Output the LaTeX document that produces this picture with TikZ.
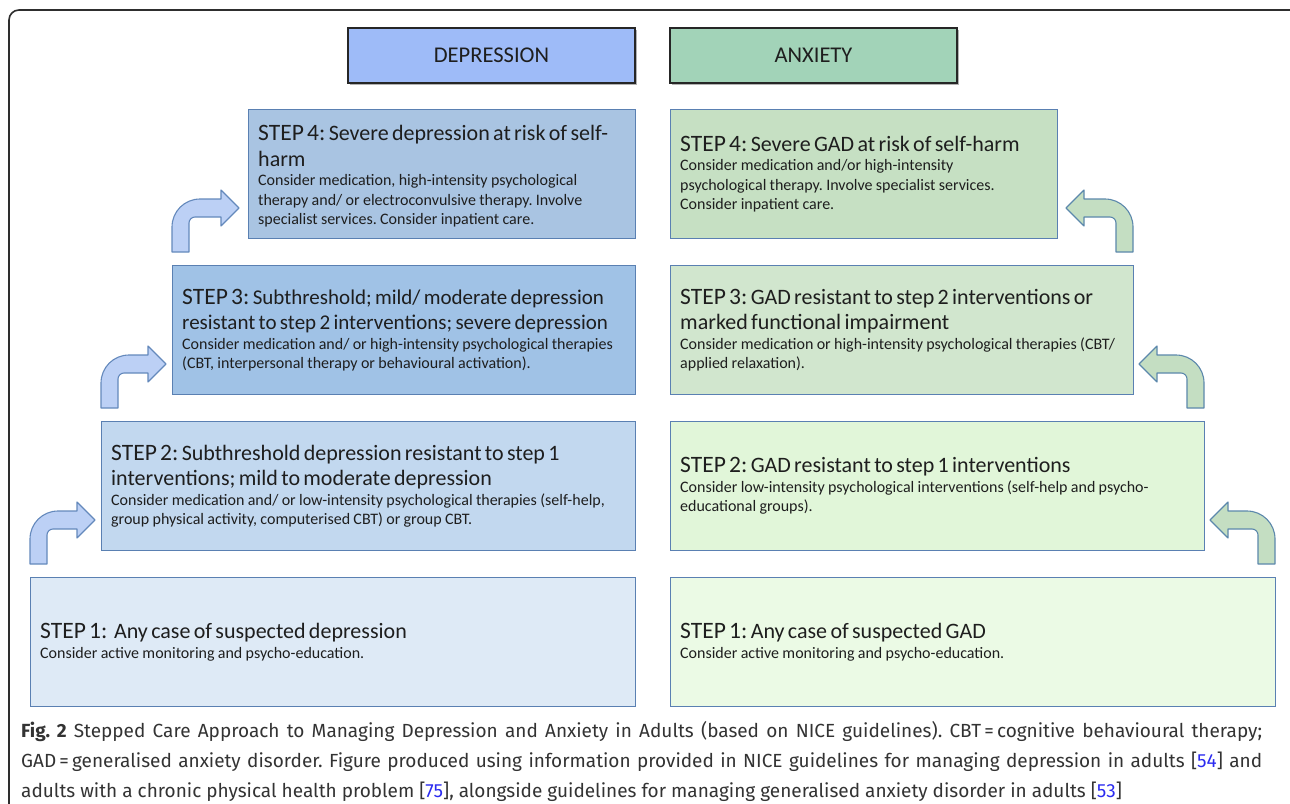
\documentclass[tikz,border=0pt]{standalone}
\usepackage{fontspec}
\setmainfont{Carlito}
\newfontfamily\capfont{Fira Sans}
\usetikzlibrary{calc}
\setlength{\parindent}{0pt}
\frenchspacing
\definecolor{frameC}{HTML}{2E2E2E}
\definecolor{hdrD}{HTML}{9EBBF8}
\definecolor{hdrA}{HTML}{A2D3B8}
\definecolor{boxline}{HTML}{5A80B2}
\definecolor{dA}{HTML}{A9C4E2}
\definecolor{dB}{HTML}{A0C2E6}
\definecolor{dC}{HTML}{C2D8EF}
\definecolor{dD}{HTML}{DEEAF6}
\definecolor{aA}{HTML}{C6E0C3}
\definecolor{aB}{HTML}{D1E6CE}
\definecolor{aC}{HTML}{E1F6D9}
\definecolor{aD}{HTML}{EBFAE5}
\definecolor{arrD}{HTML}{BCD0F5}
\definecolor{arrDl}{HTML}{6489BC}
\definecolor{arrA}{HTML}{C4DEC2}
\definecolor{arrAl}{HTML}{5C88AC}
\definecolor{txtC}{HTML}{1E1E1E}
\definecolor{capC}{HTML}{333333}
\definecolor{refC}{HTML}{2B2BF0}
\newcommand\tsz{\fontsize{22}{25.5}\selectfont}
\newcommand\tszs{\fontsize{21}{25.5}\selectfont}
\newcommand\stp[1]{{\fontsize{23.5}{25.5}\selectfont #1}}
\newcommand\bsz{\fontsize{16}{19.5}\selectfont}
\newcommand\bentarr[5]{%
  \draw[#5] (#1,#2) -- (#1,#4+19)
    .. controls (#1,#4+3.5) and (#1+12.5,#4-9) .. (#1+28,#4-9)
    -- (#3-18,#4-9) -- (#3-18,#4-18) -- (#3,#4) -- (#3-18,#4+18) -- (#3-18,#4+9)
    -- (#1+23,#4+9) .. controls (#1+19.7,#4+9) and (#1+17,#4+11.7) .. (#1+17,#4+15)
    -- (#1+17,#2) -- cycle;}
\tikzset{
  frame/.style={draw=frameC, line width=1.6pt, rounded corners=10pt},
  hdr/.style={draw=black!85, line width=1.6pt, minimum width=287pt, minimum height=55pt,
    inner sep=0pt, font=\fontsize{22.5}{26}\selectfont, text=txtC},
  stepbox/.style={draw=boxline, line width=1.3pt, minimum height=129pt, inner sep=0pt, anchor=north west},
  txt/.style={anchor=west, align=left, inner sep=0pt, text=txtC},
  arrowD/.style={fill=arrD, draw=arrDl, line width=1.1pt, line join=round},
  arrowA/.style={fill=arrA, draw=arrAl, line width=1.1pt, line join=round},
  captxt/.style={anchor=base west, inner sep=0pt, text=capC, font=\capfont\fontsize{19}{23}\selectfont}
}
\begin{document}
\begin{tikzpicture}[x=1pt,y=-1pt]
\useasboundingbox (0,0) rectangle (1290,803);
\fill[white] (0,0) rectangle (1290,803);
\draw[frame] (9,10) rectangle (1300,850);

% headers
\fill[black!30] (350,30) rectangle (637,85);
\fill[black!30] (672,30) rectangle (959,85);
\node[hdr, fill=hdrD] (hd) at (491.5,55.5) {DEPRESSION};
\node[hdr, fill=hdrA] (ha) at (813.5,55.5) {ANXIETY};

% depression boxes
\node[stepbox, fill=dA, minimum width=387pt] (d4) at (248,109) {};
\node[stepbox, fill=dB, minimum width=463pt] (d3) at (172,265) {};
\node[stepbox, fill=dC, minimum width=534pt] (d2) at (101,421) {};
\node[stepbox, fill=dD, minimum width=605pt] (d1) at (30,577) {};
% anxiety boxes
\node[stepbox, fill=aA, minimum width=387pt] (a4) at (670,109) {};
\node[stepbox, fill=aB, minimum width=463pt] (a3) at (670,265) {};
\node[stepbox, fill=aC, minimum width=534pt] (a2) at (670,421) {};
\node[stepbox, fill=aD, minimum width=605pt] (a1) at (670,577) {};

% texts depression
\node[txt, text width=375pt] (td4) at ($(d4.west)+(10,2)$) {%
{\tsz\stp{STEP 4:} Severe depression at risk of self-\\harm\par}%
{\bsz Consider medication, high-intensity psychological\\therapy and/ or electroconvulsive therapy. Involve\\specialist services. Consider inpatient care.\par}};
\node[txt, text width=451pt] (td3) at ($(d3.west)+(10,0)$) {%
{\tszs\stp{STEP 3:} Subthreshold; mild/ moderate depression\\resistant to step 2 interventions; severe depression\par}%
{\bsz Consider medication and/ or high-intensity psychological therapies\\(CBT, interpersonal therapy or behavioural activation).\par}};
\node[txt, text width=522pt] (td2) at ($(d2.west)+(10,0)$) {%
{\tsz\stp{STEP 2:} Subthreshold depression resistant to step 1\\interventions; mild to moderate depression\par}%
{\bsz Consider medication and/ or low-intensity psychological therapies (self-help,\\group physical activity, computerised CBT) or group CBT.\par}};
\node[txt, text width=593pt] (td1) at ($(d1.west)+(10,0)$) {%
{\tsz\stp{STEP 1:}\ \ Any case of suspected depression\par}%
{\bsz Consider active monitoring and psycho-education.\par}};

% texts anxiety
\node[txt, text width=375pt] (ta4) at ($(a4.west)+(10,0)$) {%
{\tsz\stp{STEP 4:} Severe GAD at risk of self-harm\par}%
{\bsz Consider medication and/or high-intensity\\psychological therapy. Involve specialist services.\\Consider inpatient care.\par}};
\node[txt, text width=451pt] (ta3) at ($(a3.west)+(10,0)$) {%
{\tsz\stp{STEP 3:} GAD resistant to step 2 interventions or\\marked functional impairment\par}%
{\bsz Consider medication or high-intensity psychological therapies (CBT/\\applied relaxation).\par}};
\node[txt, text width=522pt] (ta2) at ($(a2.west)+(10,0)$) {%
{\tsz\stp{STEP 2:} GAD resistant to step 1 interventions\par}%
{\bsz Consider low-intensity psychological interventions (self-help and psycho-\\educational groups).\par}};
\node[txt, text width=593pt] (ta1) at ($(a1.west)+(10,0)$) {%
{\tsz\stp{STEP 1:} Any case of suspected GAD\par}%
{\bsz Consider active monitoring and psycho-education.\par}};

% bent arrows (depression)
\bentarr{172}{252}{239}{208}{arrowD}
\bentarr{101}{408}{166}{364}{arrowD}
\bentarr{30}{564}{95}{520}{arrowD}
% bent arrows (anxiety, mirrored)
\begin{scope}[xshift=1305pt, xscale=-1]
\bentarr{172}{252}{239}{208}{arrowA}
\bentarr{101}{408}{166}{364}{arrowA}
\bentarr{30}{564}{95}{520}{arrowA}
\end{scope}

% caption
\node[captxt] (c1) at (21,737) {\makebox[1241pt][s]{\textbf{Fig. 2} Stepped Care Approach to Managing Depression and Anxiety in Adults (based on NICE guidelines). CBT\,=\,cognitive behavioural therapy;}};
\node[captxt] (c2) at (21,767) {\makebox[1241pt][s]{GAD\,=\,generalised anxiety disorder. Figure produced using information provided in NICE guidelines for managing depression in adults [\textcolor{refC}{54}] and}};
\node[captxt] (c3) at (21,797) {adults with a chronic physical health problem [\textcolor{refC}{75}], alongside guidelines for managing generalised anxiety disorder in adults [\textcolor{refC}{53}]};
\end{tikzpicture}
\end{document}
